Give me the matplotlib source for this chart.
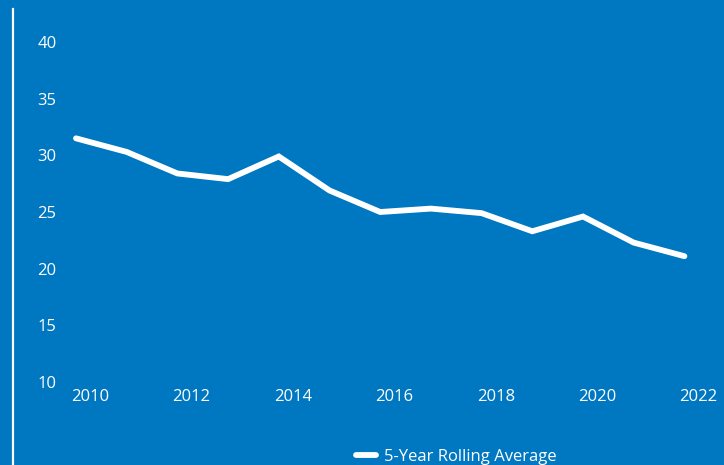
import matplotlib
matplotlib.use("Agg")
import matplotlib.pyplot as plt
from matplotlib.lines import Line2D

# values
years = [2010, 2011, 2012, 2013, 2014, 2015, 2016, 2017, 2018, 2019, 2020, 2021, 2022]
rolling_avg = [31.5, 30.3, 28.4, 27.9, 29.9, 26.9, 25.0, 25.3, 24.9, 23.3, 24.6, 22.3, 21.1]
tick_years = [2010, 2012, 2014, 2016, 2018, 2020, 2022]
y_ticks = [10, 15, 20, 25, 30, 35, 40]
series_name = "5-Year Rolling Average"

BG = "#0077c1"
FG = "white"
plt.rcParams["font.family"] = ["Open Sans", "DejaVu Sans"]

W, H = 724, 465
fig = plt.figure(figsize=(W / 100, H / 100), dpi=100, facecolor=BG)
ax = fig.add_axes([62 / W, (H - 382) / H, 662 / W, 340 / H], facecolor=BG)

ax.plot(years, rolling_avg, color=FG, lw=4.2, solid_capstyle="round",
        solid_joinstyle="miter", label=series_name)

px_per_year = 50.7
ax.set_xlim(2010 - 14 / px_per_year, 2010 + 648 / px_per_year)
ax.set_ylim(10, 40)

# labels sit slightly right of the data points in the original
ax.set_xticks([y + 0.28 for y in tick_years])
ax.set_xticklabels([str(y) for y in tick_years])
ax.set_yticks(y_ticks)
ax.tick_params(colors=FG, labelsize=12, length=0)
ax.tick_params(axis="x", pad=5)
ax.tick_params(axis="y", pad=4)
for s in ax.spines.values():
    s.set_visible(False)

# thin white rule at the left edge
fig.add_artist(Line2D([12.5 / W, 12.5 / W], [0, (H - 9) / H], color=FG, lw=1.6,
                      transform=fig.transFigure))

# legend sits at the bottom edge, partly cropped as in the original
leg = fig.legend(loc="upper left", bbox_to_anchor=(356 / W, (H - 449) / H),
                 bbox_transform=fig.transFigure, frameon=False, handlelength=1.2,
                 handletextpad=0.5, borderpad=0, borderaxespad=0,
                 fontsize=12, labelcolor=FG)

fig.savefig("out.png", dpi=100, facecolor=BG)
